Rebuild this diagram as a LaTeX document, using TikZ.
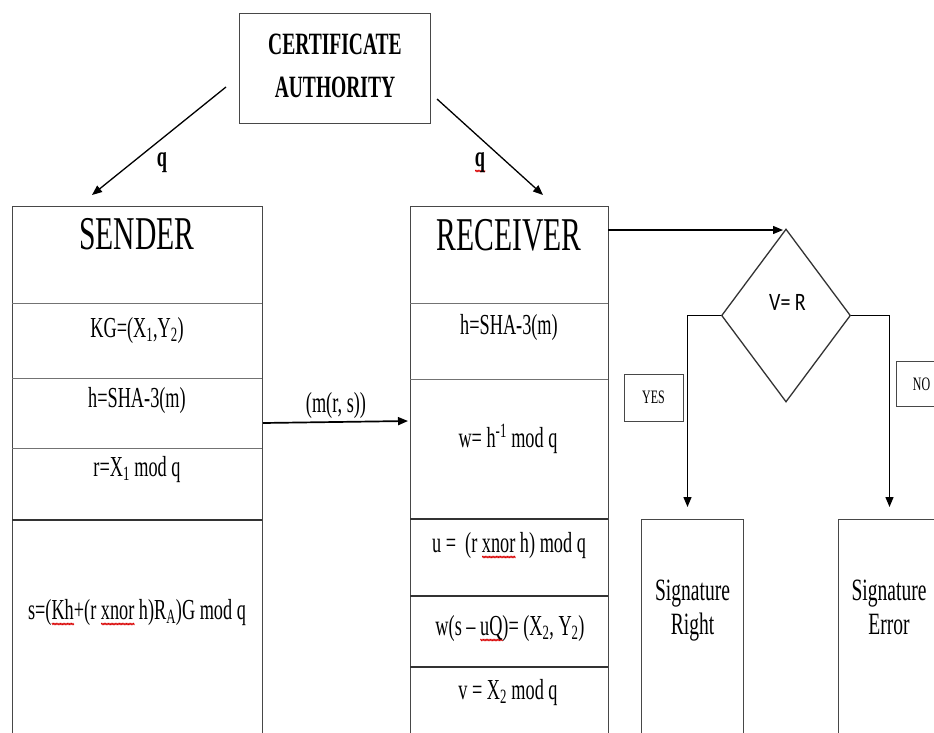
\documentclass[tikz,border=0pt]{standalone}
\usepackage{fontspec}
\setmainfont{Liberation Serif}
\newfontfamily\calib{Carlito}
\usepackage{graphicx}
\usetikzlibrary{arrows.meta,shapes.geometric,decorations.pathmorphing}
\newcommand\sq[1]{\scalebox{0.63}[1]{#1}}
\newlength\rwlen
\newcommand\rw[1]{\settowidth\rwlen{#1}\rlap{\raisebox{-5pt}[0pt][0pt]{\tikz[baseline=0pt]\draw[red!85!black,line width=0.9pt,decorate,decoration={zigzag,amplitude=0.7pt,segment length=2.2pt}] (0pt,0pt) -- (\rwlen,0pt);}}#1}
\tikzset{
  txt/.style={inner sep=0pt, anchor=base, font=\fontsize{29}{34}\selectfont},
  bigt/.style={inner sep=0pt, anchor=base, font=\fontsize{47}{52}\selectfont},
  cat/.style={inner sep=0pt, anchor=base, font=\fontsize{31}{36}\selectfont\bfseries},
  smallt/.style={inner sep=0pt, anchor=base, font=\fontsize{19}{22}\selectfont},
  boxx/.style={draw=black!72, line width=1.2pt, inner sep=0pt, anchor=north west},
  arr/.style={draw=black, line width=1.3pt, -{Triangle[length=10pt,width=8pt]}},
  dvl/.style={draw=black!55, line width=1pt},
  dvd/.style={draw=black!80, line width=1.7pt}
}
\begin{document}
\begin{tikzpicture}[x=1pt,y=-1pt]
\useasboundingbox (0,0) rectangle (934,733);
\clip (0,0) rectangle (934,733);
\fill[white] (0,0) rectangle (934,733);

% boxes
\node[boxx, minimum width=191pt, minimum height=110pt] (ca) at (239,13) {};
\node[boxx, minimum width=250pt, minimum height=600pt] (snd) at (12,206) {};
\node[boxx, minimum width=198pt, minimum height=600pt] (rcv) at (410,206) {};
\node[boxx, minimum width=102pt, minimum height=300pt] (sr) at (641,519) {};
\node[boxx, minimum width=102pt, minimum height=300pt] (se) at (838,519) {};
\node[boxx, minimum width=59pt, minimum height=47pt] (yb) at (624,374) {};
\node[boxx, minimum width=52pt, minimum height=45pt] (nb) at (896,361) {};
\node[draw=black!80, line width=1.3pt, shape=diamond, inner sep=0pt, minimum width=129pt, minimum height=173pt] (dm) at (786,315.5) {};

% dividers
\draw[dvl] (12,303) -- (262,303);
\draw[dvl] (12,378) -- (262,378);
\draw[dvl] (12,448) -- (262,448);
\draw[dvd] (12,520) -- (262,520);
\draw[dvl] (410,303) -- (608,303);
\draw[dvl] (410,379) -- (608,379);
\draw[dvd] (410,519) -- (608,519);
\draw[dvd] (410,596) -- (608,596);
\draw[dvd] (410,667) -- (608,667);

% texts
\node[cat] (ca1) at (335,55) {\sq{CERTIFICATE}};
\node[cat] (ca2) at (335,98) {\sq{AUTHORITY}};
\node[bigt] (sndt) at (137,249) {\sq{SENDER}};
\node[bigt] (rcvt) at (509,250) {\sq{RECEIVER}};
\node[txt] (s1) at (137,337) {\sq{KG=(X\textsubscript{1},Y\textsubscript{2})}};
\node[txt] (s2) at (137,407) {\sq{h=SHA-3(m)}};
\node[txt] (s3) at (137,476) {\sq{r=X\textsubscript{1} mod q}};
\node[txt] (s4) at (137,619) {\sq{s=(\rw{Kh}+(r \rw{xnor} h)R\textsubscript{A})G mod q}};
\node[txt] (r1) at (509,334) {\sq{h=SHA-3(m)}};
\node[txt] (r2) at (508,447) {\sq{w= h\textsuperscript{-1} mod q}};
\node[txt] (r3) at (509,552) {\sq{u = ~(r \rw{xnor} h) mod q}};
\node[txt] (r4) at (510,635) {\sq{w(s – \rw{uQ})= (X\textsubscript{2}, Y\textsubscript{2})}};
\node[txt] (r5) at (508,699) {\sq{v = X\textsubscript{2} mod q}};
\node[txt] (msg) at (336,412) {\sq{(m(r, s))}};
\node[txt, font=\fontsize{29}{34}\selectfont\bfseries] (ql) at (162,166) {\sq{q}};
\node[txt, font=\fontsize{29}{34}\selectfont\bfseries] (qr) at (480,166) {\sq{\rw{q}}};
\node[inner sep=0pt, anchor=base, font=\fontsize{25}{30}\selectfont\calib] (vr) at (787.5,310) {\scalebox{0.8}[1]{V= R}};
\node[smallt] (yt) at (653.5,403) {\sq{YES}};
\node[smallt] (nt) at (921.5,390) {\sq{NO}};
\node[txt, font=\fontsize{31}{36}\selectfont] (sr1) at (692.5,600) {\sq{Signature}};
\node[txt, font=\fontsize{31}{36}\selectfont] (sr2) at (692.5,634) {\sq{Right}};
\node[txt, font=\fontsize{31}{36}\selectfont] (se1) at (889,600) {\sq{Signature}};
\node[txt, font=\fontsize{31}{36}\selectfont] (se2) at (889,634) {\sq{Error}};

% connector end points
\coordinate (caL) at (226,87);
\coordinate (sIn) at (92,195);
\coordinate (caR) at (437,99);
\coordinate (rIn) at (543,195);
\coordinate (sOut) at (263,423);
\coordinate (rMsg) at (408,421);
\coordinate (rOut) at (608,230);
\coordinate (dIn) at (783,230);
\coordinate (yEnd) at (687.5,507);
\coordinate (nEnd) at (889.5,507);

% connectors
\draw[arr] (caL) -- (sIn);
\draw[arr] (caR) -- (rIn);
\draw[arr, line width=1.7pt] (sOut) -- (rMsg);
\draw[arr] (rOut) -- (dIn);
\draw[arr] (dm.west) -| (yEnd);
\draw[arr] (dm.east) -| (nEnd);
\end{tikzpicture}
\end{document}
